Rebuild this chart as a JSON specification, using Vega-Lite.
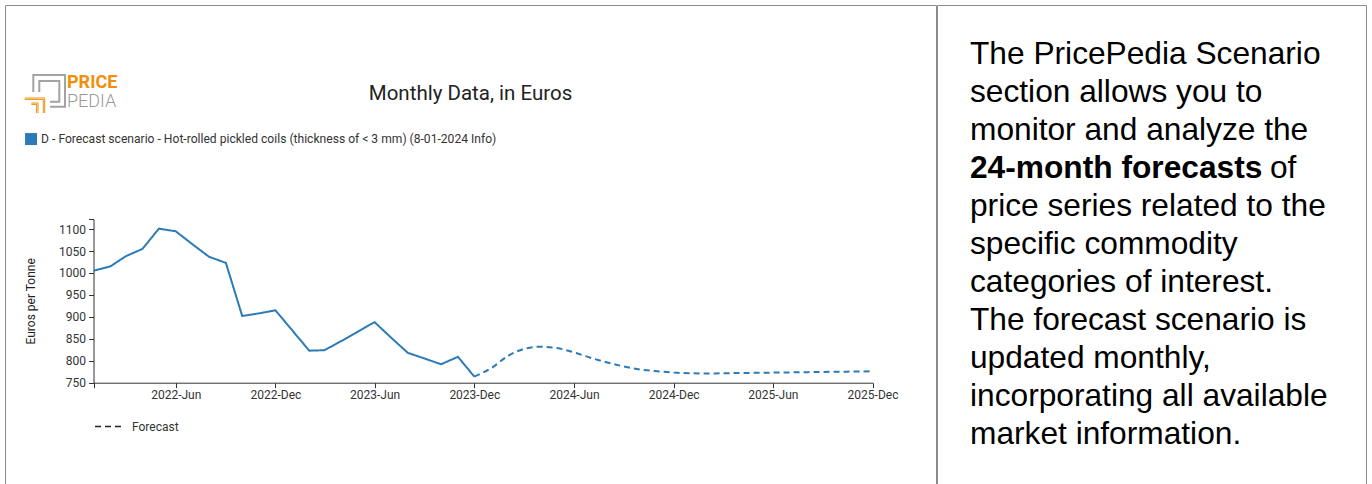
{
  "$schema": "https://vega.github.io/schema/vega-lite/v6.json",
  "padding": {"left": 4, "top": 4, "right": 0, "bottom": 0},
  "background": "white",
  "spacing": -1,
  "title": {
    "text": "PRICE",
    "subtitle": "PEDIA",
    "anchor": "start",
    "frame": "group",
    "offset": -106,
    "dx": 62,
    "font": "Roboto",
    "fontSize": 18,
    "fontWeight": "bold",
    "color": "#f0900a",
    "subtitleFont": "Roboto",
    "subtitleFontSize": 18,
    "subtitleFontWeight": 300,
    "subtitleColor": "#9a9a9a",
    "subtitlePadding": 1
  },
  "config": {
    "view": {"stroke": "#8c8c8c", "strokeWidth": 1},
    "font": "Roboto"
  },
  "datasets": {
    "actual": [
      {"date": "2022-01-01", "value": 1005},
      {"date": "2022-02-01", "value": 1015},
      {"date": "2022-03-01", "value": 1038},
      {"date": "2022-04-01", "value": 1055},
      {"date": "2022-05-01", "value": 1101},
      {"date": "2022-06-01", "value": 1095},
      {"date": "2022-07-01", "value": 1066},
      {"date": "2022-08-01", "value": 1037},
      {"date": "2022-09-01", "value": 1023},
      {"date": "2022-10-01", "value": 902},
      {"date": "2022-11-01", "value": 908},
      {"date": "2022-12-01", "value": 915},
      {"date": "2023-01-01", "value": 869},
      {"date": "2023-02-01", "value": 823},
      {"date": "2023-03-01", "value": 824},
      {"date": "2023-04-01", "value": 845},
      {"date": "2023-05-01", "value": 866},
      {"date": "2023-06-01", "value": 888},
      {"date": "2023-07-01", "value": 853},
      {"date": "2023-08-01", "value": 818},
      {"date": "2023-09-01", "value": 805},
      {"date": "2023-10-01", "value": 792},
      {"date": "2023-11-01", "value": 809},
      {"date": "2023-12-01", "value": 764}
    ],
    "forecast": [
      {"date": "2023-12-01", "value": 764},
      {"date": "2024-01-01", "value": 783},
      {"date": "2024-02-01", "value": 811},
      {"date": "2024-03-01", "value": 827},
      {"date": "2024-04-01", "value": 832},
      {"date": "2024-05-01", "value": 829},
      {"date": "2024-06-01", "value": 819},
      {"date": "2024-07-01", "value": 807},
      {"date": "2024-08-01", "value": 796},
      {"date": "2024-09-01", "value": 787},
      {"date": "2024-10-01", "value": 780},
      {"date": "2024-11-01", "value": 776},
      {"date": "2024-12-01", "value": 773},
      {"date": "2025-01-01", "value": 771.5},
      {"date": "2025-02-01", "value": 771},
      {"date": "2025-03-01", "value": 771.5},
      {"date": "2025-04-01", "value": 772},
      {"date": "2025-05-01", "value": 772.5},
      {"date": "2025-06-01", "value": 773},
      {"date": "2025-07-01", "value": 773.5},
      {"date": "2025-08-01", "value": 774},
      {"date": "2025-09-01", "value": 774.5},
      {"date": "2025-10-01", "value": 775},
      {"date": "2025-11-01", "value": 775.5},
      {"date": "2025-12-01", "value": 776}
    ],
    "lines": [
      {"line": 1, "text": "The PricePedia Scenario"},
      {"line": 2, "text": "section allows you to"},
      {"line": 3, "text": "monitor and analyze the"},
      {"line": 5, "text": "price series related to the"},
      {"line": 6, "text": "specific commodity"},
      {"line": 7, "text": "categories of interest."},
      {"line": 8, "text": "The forecast scenario is"},
      {"line": 9, "text": "updated monthly,"},
      {"line": 10, "text": "incorporating all available"},
      {"line": 11, "text": "market information."}
    ],
    "bold": [
      {"line": 4, "text": "24-month forecasts"}
    ],
    "after": [
      {"line": 4, "text": "of"}
    ]
  },
  "hconcat": [
    {
      "width": 931,
      "height": 490,
      "title": {
        "text": "Monthly Data, in Euros",
        "anchor": "middle",
        "frame": "group",
        "offset": -99,
        "font": "Roboto",
        "fontSize": 20.5,
        "fontWeight": "normal",
        "color": "#222222"
      },
      "resolve": {
        "scale": {"strokeDash": "independent"},
        "legend": {"strokeDash": "independent"}
      },
      "layer": [
        {
          "data": {"name": "actual"},
          "mark": {"type": "line", "strokeWidth": 2, "interpolate": "linear"},
          "encoding": {
            "x": {
              "field": "date",
              "type": "temporal",
              "scale": {
                "type": "utc",
                "domain": [
                  {"year": 2022, "month": 1, "date": 1, "utc": true},
                  {"year": 2025, "month": 12, "date": 1, "utc": true}
                ],
                "range": [88.5, 867.5]
              },
              "axis": {
                "orient": "bottom",
                "offset": -112.3,
                "title": null,
                "grid": false,
                "values": [
                  {"year": 2022, "month": 1, "date": 1, "utc": true},
                  {"year": 2022, "month": 6, "date": 1, "utc": true},
                  {"year": 2022, "month": 12, "date": 1, "utc": true},
                  {"year": 2023, "month": 6, "date": 1, "utc": true},
                  {"year": 2023, "month": 12, "date": 1, "utc": true},
                  {"year": 2024, "month": 6, "date": 1, "utc": true},
                  {"year": 2024, "month": 12, "date": 1, "utc": true},
                  {"year": 2025, "month": 6, "date": 1, "utc": true},
                  {"year": 2025, "month": 12, "date": 1, "utc": true}
                ],
                "labelExpr": "utcmonth(datum.value) == 0 ? '' : utcFormat(datum.value, '%Y-%b')",
                "labelFlush": false,
                "labelOverlap": false,
                "tickSize": 5,
                "labelPadding": 2,
                "labelFont": "Roboto",
                "labelFontSize": 12,
                "labelColor": "#333333",
                "domainColor": "#333333",
                "tickColor": "#333333"
              }
            },
            "y": {
              "field": "value",
              "type": "quantitative",
              "scale": {"domain": [750, 1123], "range": [377.7, 214], "nice": false, "zero": false},
              "axis": {
                "orient": "left",
                "offset": -88.5,
                "title": "Euros per Tonne",
                "grid": false,
                "values": [750, 800, 850, 900, 950, 1000, 1050, 1100, 1123],
                "format": "d",
                "labelExpr": "datum.value > 1110 ? '' : datum.label",
                "labelOverlap": false,
                "tickSize": 5,
                "labelPadding": 3,
                "labelFont": "Roboto",
                "labelFontSize": 12,
                "labelColor": "#333333",
                "domainColor": "#333333",
                "tickColor": "#333333",
                "titleFont": "Roboto",
                "titleFontSize": 12,
                "titleFontWeight": "normal",
                "titleColor": "#222222",
                "titlePadding": 21
              }
            },
            "color": {
              "datum": "D - Forecast scenario - Hot-rolled pickled coils (thickness of < 3 mm) (8-01-2024 Info)",
              "scale": {"range": ["#2c7bb6"]},
              "legend": {
                "orient": "none",
                "legendX": 20,
                "legendY": 128,
                "title": null,
                "symbolType": "square",
                "symbolSize": 144,
                "symbolStrokeWidth": 0,
                "labelFont": "Roboto",
                "labelFontSize": 12.1,
                "labelColor": "#333333",
                "labelLimit": 800,
                "labelOffset": 4,
                "encode": {"symbols": {"update": {"fill": {"value": "#2c7bb6"}, "strokeWidth": {"value": 0}}}}
              }
            },
            "strokeDash": {
              "datum": "Actual",
              "scale": {"range": [[1, 0]]},
              "legend": null
            }
          }
        },
        {
          "data": {"name": "forecast"},
          "mark": {"type": "line", "strokeWidth": 2, "interpolate": "monotone"},
          "encoding": {
            "x": {"field": "date", "type": "temporal"},
            "y": {"field": "value", "type": "quantitative"},
            "color": {"datum": "D - Forecast scenario - Hot-rolled pickled coils (thickness of < 3 mm) (8-01-2024 Info)"},
            "strokeDash": {
              "datum": "Forecast",
              "scale": {"range": [[6, 4]]},
              "legend": null
            }
          }
        },
        {
          "data": {"values": []},
          "mark": {"type": "line", "strokeWidth": 1.5, "color": "#222222"},
          "encoding": {
            "x": {"field": "date", "type": "temporal"},
            "y": {"field": "value", "type": "quantitative"},
            "strokeDash": {
              "datum": "Forecast",
              "scale": {"range": [[6, 4]]},
              "legend": {
                "orient": "none",
                "legendX": 89,
                "legendY": 407,
                "title": null,
                "symbolType": "stroke",
                "symbolSize": 729,
                "symbolStrokeWidth": 1.5,
                "symbolStrokeColor": "#222222",
                "labelFont": "Roboto",
                "labelFontSize": 12,
                "labelColor": "#333333",
                "labelOffset": 9
              }
            }
          }
        },
        {
          "data": {"values": []},
          "mark": {"type": "line", "strokeWidth": 2, "color": "#a3a3a3"},
          "encoding": {
            "x": {"field": "date", "type": "temporal"},
            "y": {"field": "value", "type": "quantitative"},
            "opacity": {
              "datum": "logo",
              "scale": {"range": [1]},
              "legend": {
                "orient": "none",
                "legendX": 42,
                "legendY": 84,
                "title": null,
                "symbolType": "M-15.7,1V-16H16V15.7H1M-9.7,1V-10H10.3V10.7H1",
                "symbolSize": 4,
                "symbolStrokeWidth": 2,
                "symbolFillColor": "transparent",
                "labelExpr": "''",
                "labelFontSize": 1,
                "encode": {"symbols": {"update": {"fill": {"value": "transparent"}}}}
              }
            }
          }
        },
        {
          "data": {"values": []},
          "mark": {"type": "line", "strokeWidth": 3.5, "color": "#f0900a"},
          "encoding": {
            "x": {"field": "date", "type": "temporal"},
            "y": {"field": "value", "type": "quantitative"},
            "strokeWidth": {
              "datum": "logo2",
              "scale": {"range": [3.5]},
              "legend": {
                "orient": "none",
                "legendX": 30,
                "legendY": 100,
                "title": null,
                "symbolType": "M-10.3,-7H9.7V8M-10.3,-5.6H8.3V8M-3.7,-2H3V8M-3.7,-0.6H1.6V8",
                "symbolSize": 4,
                "symbolStrokeWidth": 3.5,
                "symbolFillColor": "transparent",
                "labelExpr": "''",
                "labelFontSize": 1,
                "encode": {"symbols": {"update": {"fill": {"value": "transparent"}, "strokeWidth": {"value": 3.5}}}}
              }
            }
          }
        }
      ]
    },
    {
      "width": 429,
      "height": 490,
      "encoding": {
        "y": {
          "field": "line",
          "type": "ordinal",
          "scale": {"type": "point", "padding": 0, "domain": [1, 2, 3, 4, 5, 6, 7, 8, 9, 10, 11], "range": [59, 439]},
          "axis": null
        },
        "text": {"field": "text", "type": "nominal"}
      },
      "layer": [
        {
          "data": {"name": "lines"},
          "mark": {"type": "text", "align": "left", "baseline": "alphabetic", "x": 33, "font": "Liberation Sans", "fontSize": 31.7, "color": "#000000"}
        },
        {
          "data": {"name": "bold"},
          "mark": {"type": "text", "align": "left", "baseline": "alphabetic", "x": 33, "font": "Liberation Sans", "fontSize": 31.7, "fontWeight": "bold", "color": "#000000"}
        },
        {
          "data": {"name": "after"},
          "mark": {"type": "text", "align": "left", "baseline": "alphabetic", "x": 333, "font": "Liberation Sans", "fontSize": 31.7, "color": "#000000"}
        }
      ]
    }
  ]
}
